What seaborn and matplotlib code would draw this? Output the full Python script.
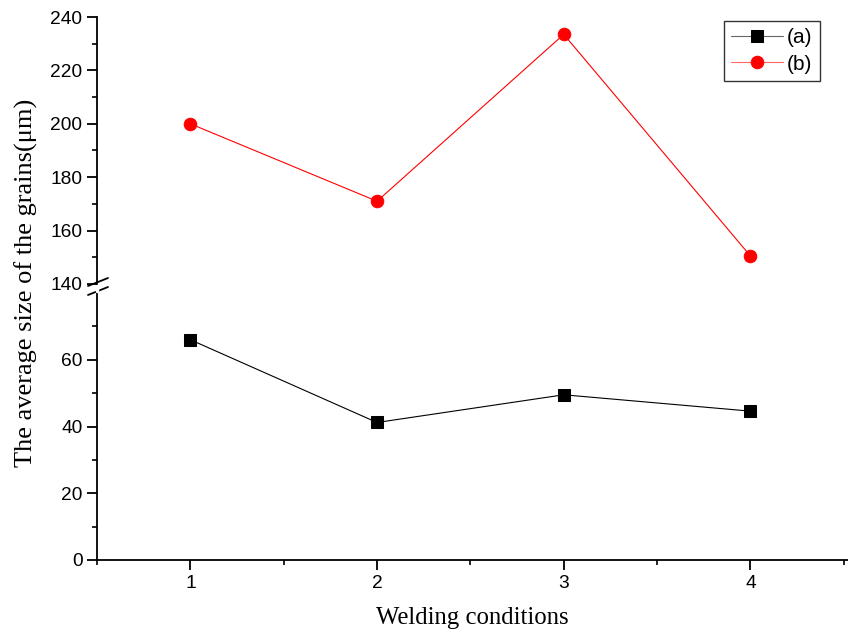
import numpy as np
import pandas as pd
import matplotlib
matplotlib.use("Agg")
import matplotlib.pyplot as plt
import seaborn as sns
from matplotlib.ticker import MultipleLocator, FixedLocator

conditions = [1, 2, 3, 4]
size_a = [66.0, 41.2, 49.5, 44.6]
size_b = [200.0, 171.0, 233.5, 150.5]

sns.set_style("ticks")
plt.rcParams['font.family'] = ['Liberation Sans', 'DejaVu Sans']
plt.rcParams['axes.linewidth'] = 1.3
plt.rcParams['text.color'] = 'black'
plt.rcParams['axes.labelcolor'] = 'black'
plt.rcParams['xtick.color'] = 'black'
plt.rcParams['ytick.color'] = 'black'
plt.rcParams['axes.edgecolor'] = 'black'

fig = plt.figure(figsize=(8.48, 6.34), dpi=100)
left = 97 / 848
width = 1 - left - 0.5 / 848
ax_top = fig.add_axes([left, 1 - 284 / 634, width, (284 - 17) / 634])
ax_low = fig.add_axes([left, 1 - 560 / 634, width, (560 - 293) / 634])

df = pd.DataFrame({"cond": conditions, "a": size_a, "b": size_b})

sns.lineplot(data=df, x="cond", y="a", marker="s", markersize=8, color="black",
             linewidth=0.8, markeredgecolor="black", ax=ax_low, label="(a)", legend=False)
sns.lineplot(data=df, x="cond", y="b", marker="o", markersize=9, color="red",
             linewidth=0.8, markeredgecolor="red", ax=ax_top, label="(b)", legend=False)

for ax in (ax_top, ax_low):
    ax.set_xlim(0.5, 4.52)
    ax.spines['right'].set_visible(False)
    ax.spines['top'].set_visible(False)
    ax.tick_params(axis='both', which='major', direction='out', length=7, width=1.3,
                   labelsize=13.8, colors='black')
    ax.tick_params(axis='both', which='minor', direction='out', length=3.5, width=1.2)
    ax.set_xlabel("")
    ax.set_ylabel("")

ax_top.set_ylim(140, 240)
ax_top.yaxis.set_major_locator(MultipleLocator(20))
ax_top.yaxis.set_minor_locator(MultipleLocator(10))
ax_top.spines['bottom'].set_visible(False)
ax_top.tick_params(axis='x', which='both', bottom=False, labelbottom=False)

ax_low.set_ylim(0, 80)
ax_low.yaxis.set_major_locator(FixedLocator([0, 20, 40, 60]))
ax_low.yaxis.set_minor_locator(FixedLocator([10, 30, 50, 70]))
ax_low.xaxis.set_major_locator(FixedLocator(conditions))
ax_low.xaxis.set_minor_locator(MultipleLocator(0.5))
ax_low.set_xlabel("Welding conditions", family=['Liberation Serif', 'DejaVu Serif'],
                  fontsize=17.8, labelpad=11, color='black')

fig.text(0.031, (1 - 470 / 634 + 1 - 95 / 634) / 2, "The average size of the grains(\u03bcm)",
         rotation=90, ha='center', va='center',
         family=['Liberation Serif', 'DejaVu Serif'], fontsize=19, color='black')

# break marks on the left spine
for ypix in (283, 292):
    yf = 1 - ypix / 634
    fig.add_artist(plt.Line2D([left - 9 / 848, left + 11 / 848],
                              [yf - 3 / 634, yf + 5 / 634],
                              color='black', linewidth=1.3))
# white gap between the two marks
fig.add_artist(plt.Line2D([left, left], [1 - 286 / 634, 1 - 291 / 634],
                          color='white', linewidth=2.5, zorder=5))

h1, l1 = ax_low.get_legend_handles_labels()
h2, l2 = ax_top.get_legend_handles_labels()
leg = ax_top.legend(h1 + h2, l1 + l2, loc='upper right',
                    bbox_to_anchor=((820 - 97) / 750.5, 1 - 4 / 267),
                    frameon=True, fancybox=False, edgecolor='black', fontsize=15,
                    handlelength=2.5, borderpad=0.35, labelspacing=0.35, handletextpad=0.2,
                    borderaxespad=0)
leg.get_frame().set_linewidth(1.0)
for line, col, mc in zip(leg.get_lines(), ['#666666', '#ff6666'], ['black', 'red']):
    line.set_color(col)
    line.set_markerfacecolor(mc)
    line.set_markeredgecolor(mc)

fig.savefig("out.png", dpi=100)
